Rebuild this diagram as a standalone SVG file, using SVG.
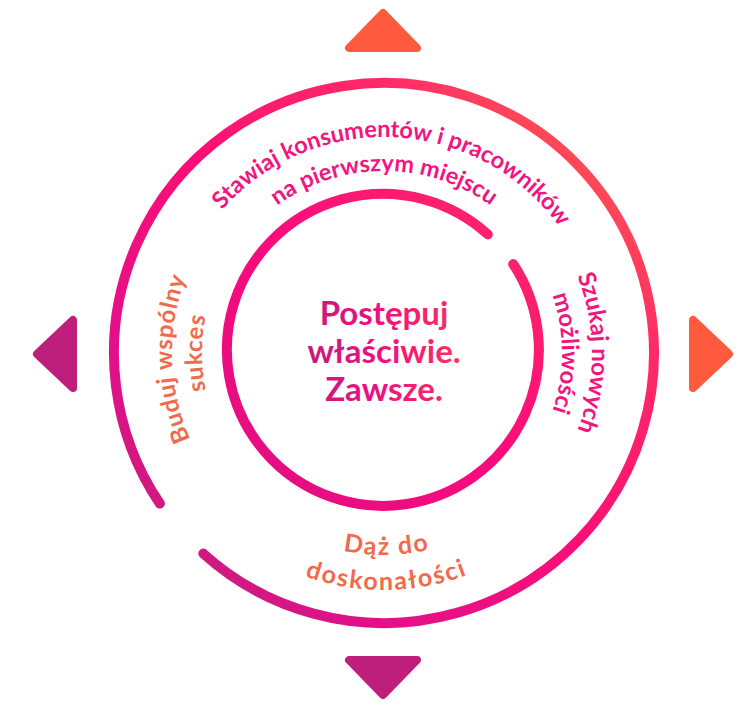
<svg xmlns="http://www.w3.org/2000/svg" width="744" height="702" viewBox="0 0 744 702">
  <defs>
    <linearGradient id="gOuter" gradientUnits="userSpaceOnUse" x1="159" y1="578" x2="609" y2="128">
      <stop offset="0" stop-color="#C41F7C"/>
      <stop offset="0.2" stop-color="#E2108A"/>
      <stop offset="0.5" stop-color="#FB0E76"/>
      <stop offset="0.8" stop-color="#FF2A68"/>
      <stop offset="1" stop-color="#FF5A4E"/>
    </linearGradient>
    <linearGradient id="gInner" gradientUnits="userSpaceOnUse" x1="227" y1="506" x2="539" y2="194">
      <stop offset="0" stop-color="#DE0E84"/>
      <stop offset="0.5" stop-color="#FA0B7C"/>
      <stop offset="1" stop-color="#FF2A66"/>
    </linearGradient>
    <linearGradient id="gText" gradientUnits="userSpaceOnUse" x1="305" y1="0" x2="465" y2="0">
      <stop offset="0" stop-color="#C41C7E"/>
      <stop offset="0.45" stop-color="#EC1080"/>
      <stop offset="1" stop-color="#FF325E"/>
    </linearGradient>
    <path id="pTop1" d="M168,353 A216,216 0 0 1 600,353"/>
    <path id="pTop2" d="M202,353 A182,182 0 0 1 566,353"/>
    <path id="pRight1" d="M384,145 A208,208 0 0 1 384,561"/>
    <path id="pRight2" d="M384,175 A178,178 0 0 1 384,531"/>
    <path id="pLeft1" d="M384,565 A212,212 0 0 1 384,141"/>
    <path id="pLeft2" d="M384,535 A182,182 0 0 1 384,171"/>
    <path id="pBot1" d="M182,353 A202,202 0 0 0 586,353"/>
    <path id="pBot2" d="M147,353 A237,237 0 0 0 621,353"/>
  </defs>
  <style>
    .ring { fill: none; stroke-width: 10; stroke-linecap: round; }
    .tri { stroke-width: 8; stroke-linejoin: round; }
    .orange { fill: #FF5A3D; stroke: #FF5A3D; }
    .purple { fill: #BE1F7C; stroke: #BE1F7C; }
    .lbl { font-family: Lato, "Liberation Sans", sans-serif; font-weight: 700; font-size: 24px; }
    .top { font-size: 23.5px; }
    .left { letter-spacing: 0.75px; }
    .bot { font-size: 25px; letter-spacing: 1.8px; }
    .pink { fill: #F3157F; }
    .coral { fill: #F26A4C; }
    .center { font-family: Lato, "Liberation Sans", sans-serif; font-weight: 700; font-size: 33px; fill: url(#gText); text-anchor: middle; }
  </style>

  <g id="connectors">
    <path id="outer-ring" class="ring" stroke="url(#gOuter)" d="M159.9,503.6 A270,270 0 1 1 203.3,553.6"/>
    <path id="inner-ring" class="ring" stroke="url(#gInner)" d="M513.2,264.1 A156,156 0 1 1 487.8,234.4"/>
  </g>

  <g id="arrow-top"><polygon class="tri orange" points="383,13 349,48 417,48"/></g>
  <g id="arrow-right"><polygon class="tri orange" points="729,354 693,320 693,388"/></g>
  <g id="arrow-bottom"><polygon class="tri purple" points="383,695 349,660 417,660"/></g>
  <g id="arrow-left"><polygon class="tri purple" points="37,354 73,320 73,388"/></g>

  <g id="center-node">
    <text class="center" x="384" y="325">Postępuj</text>
    <text class="center" x="384" y="363">właściwie.</text>
    <text class="center" x="384" y="401">Zawsze.</text>
  </g>

  <g id="label-top">
    <text class="lbl top pink"><textPath href="#pTop1" startOffset="350" text-anchor="middle">Stawiaj konsumentów i pracowników</textPath></text>
    <text class="lbl top pink"><textPath href="#pTop2" startOffset="50%" text-anchor="middle">na pierwszym miejscu</textPath></text>
  </g>
  <g id="label-right">
    <text class="lbl pink"><textPath href="#pRight1" startOffset="50%" text-anchor="middle">Szukaj nowych</textPath></text>
    <text class="lbl pink"><textPath href="#pRight2" startOffset="50%" text-anchor="middle">możliwości</textPath></text>
  </g>
  <g id="label-bottom">
    <text class="lbl bot coral"><textPath href="#pBot1" startOffset="320" text-anchor="middle">Dąż do</textPath></text>
    <text class="lbl bot coral"><textPath href="#pBot2" startOffset="375" text-anchor="middle">doskonałości</textPath></text>
  </g>
  <g id="label-left">
    <text class="lbl left coral"><textPath href="#pLeft1" startOffset="327" text-anchor="middle">Buduj wspólny</textPath></text>
    <text class="lbl left coral"><textPath href="#pLeft2" startOffset="50%" text-anchor="middle">sukces</textPath></text>
  </g>
</svg>
